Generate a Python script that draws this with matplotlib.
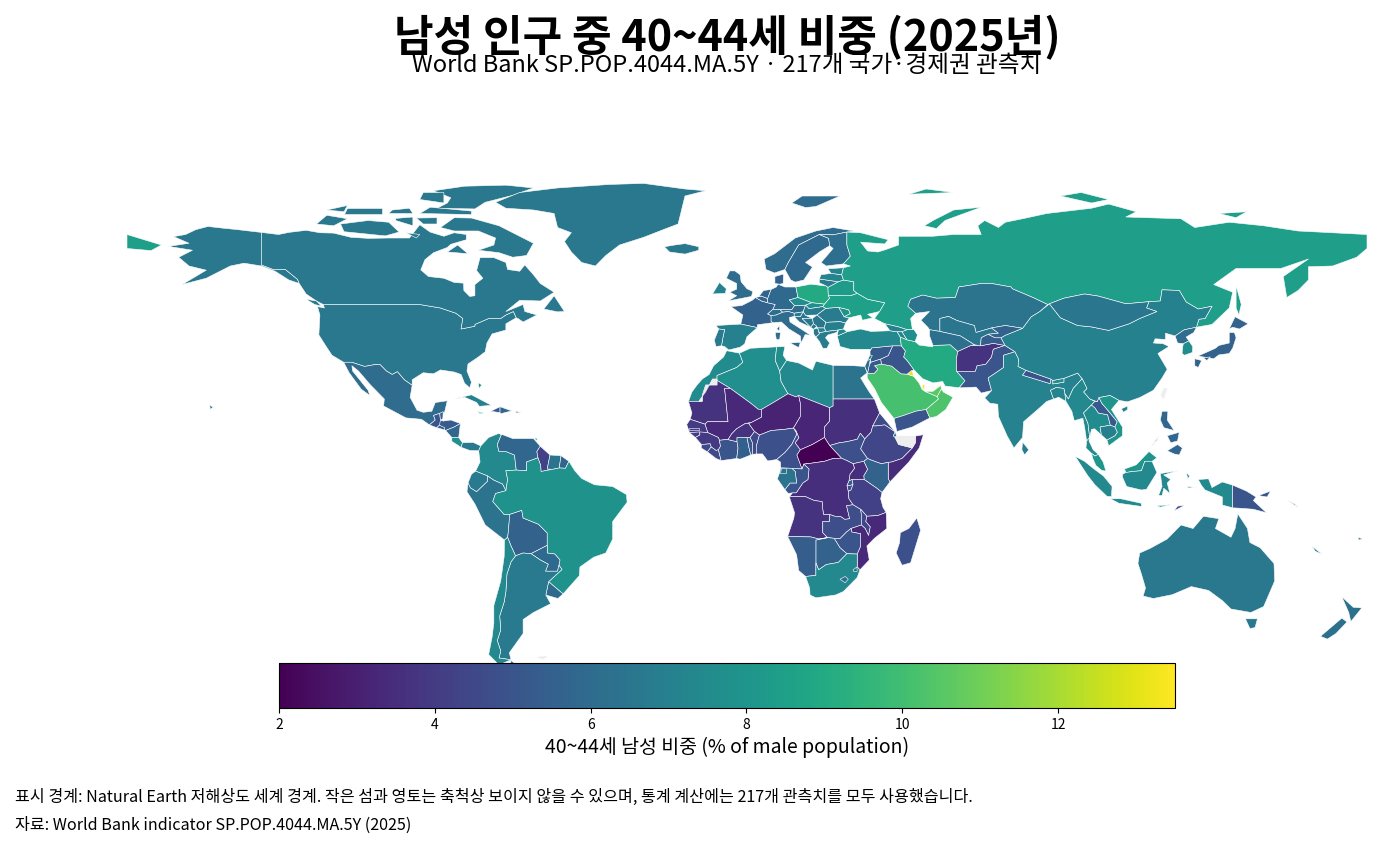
import matplotlib
matplotlib.use("Agg")
import matplotlib.pyplot as plt
from matplotlib.cm import ScalarMappable
from matplotlib.collections import PolyCollection
from matplotlib.colors import Normalize

plt.rcParams['font.family'] = ['Noto Sans CJK KR', 'DejaVu Sans']

# 지도 외곽선 (경도, 위도) - 그림에서 읽은 대략값
outlines_america = {
    "USA": [
        [(-141,69.6),(-148,70.4),(-152,70.8),(-156.5,71.3),(-160,70.4),(-163,69),(-166.5,68.4),(-162,66.5),(-168,65.6),(-161,64.5),(-165,62.5),(-162,60),(-157,58.8),(-164,54.7),(-157,56.5),(-153,58.5),(-150,60),(-146,60.8),(-141,60),(-137,58.5),(-133,56),(-130,55),(-130.5,56.2),(-134,59),(-137.5,59),(-141,60.3)],
        [(-123,49),(-95,49),(-89,48),(-84.5,46.5),(-82.5,45),(-83,42),(-79,42.8),(-79,43.3),(-75,45),(-71.5,45),(-70,46),(-67.8,47),(-67,45.2),(-70,43.5),(-70,41.7),(-74,40.6),(-75.5,38),(-76,35.5),(-78,34),(-81,32),(-81.3,30),(-80,26.8),(-80.5,25.2),(-82,26.5),(-83,29),(-85,29.7),(-89,30.3),(-91,29.2),(-94,29.5),(-97.2,27.5),(-97.2,25.9),(-99.5,27.5),(-101.5,29.8),(-103,29),(-104.7,30),(-106.5,31.8),(-108.2,31.8),(-111,31.3),(-114.8,32.5),(-117.1,32.5),(-120.5,34.5),(-122.5,37.5),(-124.3,40.3),(-124,46),(-124.7,48.4),(-122.7,48)],
        [(-156,20.2),(-155,19.7),(-155.8,19)],
    ],
    "Canada": [
        [(-141,69.6),(-136,69),(-133,69.6),(-128,70.2),(-124,69.5),(-120,69.4),(-115,68.2),(-110,67.9),(-104,68),(-98,68),(-95,71.8),(-92,69.7),(-88,68.5),(-85,69.5),(-81.5,69),(-81.5,67.5),(-86,66.2),(-87,65.3),(-91,63.8),(-93.5,61.8),(-94.7,58.9),(-92.5,57),(-88,56.5),(-85,55.3),(-82.3,55.1),(-82.2,53),(-80.5,51.3),(-79,51.5),(-79,54.7),(-76.7,56.5),(-78.5,58.7),(-77.5,62.4),(-73.5,62.4),(-70,61),(-69.5,59),(-66,58.5),(-64.5,60.3),(-62,57.5),(-60,55),(-56,52.5),(-60,50),(-66,50.2),(-70,47),(-65,49),(-64.5,47),(-61,46),(-65,44),(-66.5,45),(-67,45.2),(-67.8,47),(-70,46),(-71.5,45),(-75,45),(-79,43.3),(-79,42.8),(-83,42),(-82.5,45),(-84.5,46.5),(-89,48),(-95,49),(-123,49),(-125,50),(-128,52),(-130,55),(-130.5,56.2),(-134,59),(-137.5,59),(-141,60.3)],
        [(-128,50.5),(-125,50),(-123.5,48.5),(-125.5,49)],
        [(-59,47.7),(-56,51.5),(-53,47),(-55,46.9)],
        [(-80,73.7),(-72,71.5),(-67,69),(-62,66.5),(-64,63),(-68,62.5),(-72,63.8),(-78,64.5),(-73.5,66),(-73,68),(-78,70),(-85,70),(-89,71),(-85,73.8)],
        [(-117,69.8),(-105,68.6),(-101,69.7),(-104,72.5),(-110,73),(-118,72)],
        [(-125,72),(-120,71.5),(-116,73.5),(-122,74.5)],
        [(-90,76.5),(-79,76.3),(-76,78.2),(-68,80.2),(-62,82.3),(-70,83.1),(-82,82.8),(-91,81.5),(-86,79.5),(-87,78)],
        [(-95,75),(-80,74.7),(-80,75.7),(-92,76.8)],
        [(-117,75),(-106,75),(-106,76.5),(-116,76.5)],
        [(-87,64),(-81,63.5),(-84,66)],
        [(-96,73.7),(-90,73.8),(-90,72),(-94,72)],
        [(-102,73),(-97,71.5),(-97,74),(-102,73.6)],
        [(-99,69.5),(-95,69),(-96,68)],
        [(-122,76),(-117,75.5),(-116,77.3)],
        [(-104,75),(-97,75),(-98,76.5),(-103,76)],
        [(-95,79),(-88,78),(-88,81),(-94,81)],
    ],
    "Greenland": [[(-73,78.2),(-66,81),(-55,82.3),(-40,83.3),(-30,83.6),(-18,82),(-12,81.5),(-18,80),(-19,76),(-20,72),(-24,70.5),(-30,68.2),(-37,66),(-41,63),(-44,60),(-48,61),(-51,64),(-53,67),(-51,69.5),(-55,71),(-56,75),(-62,76),(-70,76.5)]],
    "Mexico": [[(-117.1,32.5),(-114.8,32.5),(-111,31.3),(-108.2,31.8),(-106.5,31.8),(-104.7,30),(-103,29),(-101.5,29.8),(-99.5,27.5),(-97.2,25.9),(-97.8,22.5),(-95.8,18.8),(-94,18.2),(-91.5,18.5),(-90.5,21),(-87,21.5),(-87.8,18.2),(-89.2,17.9),(-91,17.3),(-90.5,16),(-92.2,14.6),(-94.5,16.2),(-99,16.6),(-105.5,20),(-105.3,22),(-109.3,26),(-112.8,30),(-114.7,31.5),(-114.5,30),(-110,24.5),(-109.5,23),(-112,24.8),(-115.5,29.5)]],
    "Guatemala": [[(-92.2,14.6),(-90.5,16),(-91,17.3),(-89.2,17.9),(-89,15.9),(-88.2,15.7),(-89.3,14.5),(-90.1,13.8)]],
    "Belize": [[(-89.2,17.9),(-88.2,18.4),(-88.3,16.4),(-89,15.9)]],
    "Honduras": [[(-89,15.9),(-88.2,15.7),(-86,16),(-83.2,15),(-85,14),(-87.5,13),(-89.3,14.5)]],
    "El Salvador": [[(-90.1,13.8),(-89.3,14.5),(-87.7,13.8),(-87.9,13.2)]],
    "Nicaragua": [[(-87.5,13),(-85,14),(-83.2,15),(-83.7,11),(-85.7,11)]],
    "Costa Rica": [[(-85.7,11),(-83.7,11),(-82.6,9.5),(-83,8.2),(-85.7,9.9)]],
    "Panama": [[(-83,8.2),(-82.6,9.5),(-79.5,9.6),(-77.3,8.6),(-77.9,7.2),(-80.5,7.3)]],
    "Cuba": [[(-85,22),(-80,23.2),(-74.2,20.2),(-77.7,19.9),(-78.5,21),(-82,22.5)]],
    "Haiti": [[(-74.4,18.5),(-71.7,19.8),(-71.7,18.1)]],
    "Dominican Rep.": [[(-71.7,19.8),(-68.3,18.6),(-71.5,17.8),(-71.7,18.1)]],
    "Jamaica": [[(-78.3,18.4),(-76.3,18),(-77.5,17.8)]],
    "Puerto Rico": [[(-67.2,18.5),(-65.6,18.2),(-67,18)]],
    "Bahamas": [[(-78,26.7),(-77,26),(-77.8,25)]],
    "Trinidad": [[(-61.9,10.8),(-60.9,10.8),(-61,10.1)]],
    "Colombia": [[(-77.3,8.6),(-75,11),(-72,12.2),(-71.3,11.8),(-72.5,9),(-72,7),(-70,7),(-67.5,6),(-67,1.7),(-70,1.5),(-69.5,-1),(-70,-4.2),(-71,-2.3),(-73.5,-1.2),(-75.3,0),(-78.8,1.4),(-77.5,4),(-77.9,7.2)]],
    "Venezuela": [[(-72,12.2),(-68,10.7),(-62,10.7),(-60,8.5),(-61,7),(-60.7,5.2),(-64,4),(-64,1.5),(-67,1.7),(-67.5,6),(-70,7),(-72,7),(-72.5,9),(-71.3,11.8)]],
    "Guyana": [[(-60,8.5),(-57.2,6),(-58,2),(-56.5,1.9),(-59.8,1.3),(-59.9,3),(-60.7,5.2),(-61,7)]],
    "Suriname": [[(-57.2,6),(-54,5.8),(-54.5,2.3),(-56.5,1.9),(-58,2)]],
    "French Guiana": [[(-54,5.8),(-51.7,4.2),(-52.7,2.2),(-54.5,2.3)]],
    "Ecuador": [[(-78.8,1.4),(-75.3,0),(-75.3,-1.5),(-78.5,-4.5),(-80.3,-3.4),(-81,-2),(-80,0.5)]],
    "Peru": [[(-81,-2),(-80.3,-3.4),(-78.5,-4.5),(-75.3,-1.5),(-75.3,0),(-73.5,-1.2),(-71,-2.3),(-70,-4.2),(-73,-5),(-73.8,-7.3),(-70.5,-11),(-69,-11),(-69,-12.5),(-69.3,-16),(-69.5,-17.5),(-70.4,-18.3),(-76,-14),(-79,-8),(-81.3,-4.5)]],
    "Bolivia": [[(-69,-11),(-65.4,-9.8),(-65,-12),(-60.5,-13.8),(-58,-16.3),(-58,-19.8),(-62.7,-22.2),(-65,-22),(-67.2,-22.8),(-68.5,-20),(-69.5,-17.5),(-69.3,-16),(-69,-12.5)]],
    "Brazil": [[(-51.7,4.2),(-50,1.5),(-48,-0.7),(-44.3,-2.5),(-39,-3),(-35,-5.3),(-34.8,-7.5),(-39,-13),(-39,-18),(-41,-22),(-44.5,-23.2),(-48.5,-26),(-48.7,-28.5),(-53.4,-33.7),(-57.6,-30.2),(-53.7,-26.7),(-54.6,-25.5),(-54.3,-24),(-55.8,-22.3),(-58,-22),(-58,-19.8),(-58,-16.3),(-60.5,-13.8),(-65,-12),(-65.4,-9.8),(-69,-11),(-70.5,-11),(-73.8,-7.3),(-73,-5),(-70,-4.2),(-69.5,-1),(-70,1.5),(-67,1.7),(-64,1.5),(-64,4),(-60.7,5.2),(-59.9,3),(-59.8,1.3),(-56.5,1.9),(-54.5,2.3),(-52.7,2.2)]],
    "Paraguay": [[(-58,-19.8),(-58,-22),(-55.8,-22.3),(-54.3,-24),(-54.6,-25.5),(-55,-27.2),(-58.5,-27.2),(-57.7,-25.2),(-60,-24),(-62.7,-22.2)]],
    "Uruguay": [[(-57.6,-30.2),(-53.4,-33.7),(-54.9,-35),(-58.4,-34)]],
    "Argentina": [
        [(-67.2,-22.8),(-65,-22),(-62.7,-22.2),(-60,-24),(-57.7,-25.2),(-58.5,-27.2),(-55,-27.2),(-54.6,-25.5),(-53.7,-26.7),(-57.6,-30.2),(-58.4,-34),(-57,-36.5),(-62,-39),(-65,-41),(-65,-45),(-69,-50.5),(-68.5,-52.5),(-72,-52),(-71.5,-50),(-72.5,-47),(-71.5,-44),(-71.8,-40),(-70.5,-36),(-70,-33),(-69.7,-28),(-68.5,-24.5)],
        [(-68.6,-52.7),(-65.2,-55),(-68.6,-55)],
    ],
    "Chile": [[(-70.4,-18.3),(-69.5,-17.5),(-68.5,-20),(-67.2,-22.8),(-68.5,-24.5),(-69.7,-28),(-70,-33),(-70.5,-36),(-71.8,-40),(-71.5,-44),(-72.5,-47),(-71.5,-50),(-72,-52),(-68.5,-52.5),(-72,-54),(-75,-51),(-74,-46),(-73.5,-42),(-73.5,-37),(-71.5,-30),(-70.5,-23)]],
}
values_america = {
    "USA": 6.6, "Canada": 6.6, "Greenland": 6.6, "Mexico": 6.0, "Guatemala": 5.0, "Belize": 5.6,
    "Honduras": 5.3, "El Salvador": 5.5, "Nicaragua": 5.8, "Costa Rica": 7.7, "Panama": 6.7,
    "Cuba": 7.0, "Haiti": 5.3, "Dominican Rep.": 5.8, "Jamaica": 8.6, "Puerto Rico": 6.2,
    "Bahamas": 7.6, "Trinidad": 8.8, "Colombia": 7.4, "Venezuela": 5.8, "Guyana": 4.2,
    "Suriname": 6.4, "French Guiana": 5.7, "Ecuador": 6.7, "Peru": 6.4, "Bolivia": 5.6,
    "Brazil": 7.8, "Paraguay": 5.9, "Uruguay": 5.9, "Argentina": 6.7, "Chile": 7.4,
}

outlines_europe = {
    "Norway": [
        [(5,62),(8,63.5),(14,68),(20,70),(25,71),(31,70),(29,69.7),(25,68.9),(21,69),(15,66),(12,61),(11,59),(8,58),(5.5,59)],
        [(13,78),(16,80),(27,80),(20,77),(17,76.7)],
    ],
    "Sweden": [[(12,61),(15,66),(21,69),(23.7,67.9),(24,65.8),(21,64),(17,61),(19,59.7),(16.5,56),(14,55.4),(12.7,56),(11,59)]],
    "Finland": [[(21,69),(25,68.9),(29,69.7),(29,66),(30,62.8),(28,60.6),(23,60),(21.5,61),(25,65),(24,65.8),(23.7,67.9)]],
    "Denmark": [[(8.1,55),(8.1,57),(10.6,57.7),(10.5,55),(9.5,54.8)]],
    "Iceland": [[(-24,65.5),(-21,66),(-18,66.4),(-14,65.5),(-14,64.5),(-18,63.4),(-22.5,64)]],
    "Ireland": [[(-10,52),(-8,55.3),(-6,53.5),(-6.3,52.2)]],
    "UK": [[(-5.5,50),(1.3,51.3),(1.7,52.7),(0,53.5),(-1.7,55.5),(-2,57.5),(-3.5,58.6),(-5,58.6),(-6,56.5),(-3,55),(-3,53.4),(-5,52.5),(-3,51.5)]],
    "France": [
        [(-1.8,43.4),(-1.2,46),(-4.7,48.4),(-1.5,48.7),(1.5,50.2),(2.5,51),(4.2,50),(6,49.5),(8.2,49),(7.5,47.6),(6,46.3),(7,45.8),(7,44.2),(7.5,43.8),(3,43.2),(3,42.4)],
        [(8.6,42),(9.5,43),(9.4,41.5)],
    ],
    "Spain": [[(-9,43),(-1.8,43.4),(3,42.4),(0,39.8),(-0.7,37.7),(-2,36.8),(-5.3,36),(-6.5,37),(-7.4,37.2),(-7,39.5),(-6.5,41.8),(-8.2,42)]],
    "Portugal": [[(-8.2,42),(-6.5,41.8),(-7,39.5),(-7.4,37.2),(-9,37),(-9.5,38.8)]],
    "Belgium": [[(2.5,51),(4.2,51.4),(6,50.7),(6,49.5),(4.2,50)]],
    "Netherlands": [[(3.5,51.4),(4.8,53),(7,53.3),(6,50.7),(4.2,51.4)]],
    "Germany": [[(6,50.7),(7,53.3),(8.5,54),(9,54.8),(11,54),(14.2,54),(14.8,51),(12.3,50.3),(13.8,48.7),(13,47.5),(9.6,47.5),(7.5,47.6),(8.2,49),(6,49.5)]],
    "Switzerland": [[(6,46.3),(7.5,47.6),(9.6,47.5),(10.4,46.8),(8.5,46),(7,45.8)]],
    "Austria": [[(9.6,47.5),(13,47.5),(13.8,48.7),(17,48.8),(16.3,46.9),(13.7,46.5),(12,47),(10.4,46.8)]],
    "Italy": [
        [(7,45.8),(8.5,46),(10.4,46.8),(12,47),(13.7,46.5),(13.7,45.6),(12.3,45.3),(12.5,44),(16,41.8),(18.5,40.2),(16.9,40.4),(15.7,38),(15.5,40),(12.2,42),(10,44),(7.5,43.8),(7,44.2)],
        [(12.5,38),(15.5,38.2),(15,36.7)],
        [(8.2,41),(9.7,41),(9.5,39),(8.5,39)],
    ],
    "Poland": [[(14.2,54),(18.5,54.8),(23,54.3),(23.5,53.9),(23.6,51.6),(24,50.8),(22.5,49.1),(18.8,49.5),(14.8,51)]],
    "Czechia": [[(12.3,50.3),(14.8,51),(18.8,49.5),(17,48.8),(13.8,48.7)]],
    "Slovakia": [[(17,48.8),(18.8,49.5),(22.5,49.1),(22,48.4),(18,47.8)]],
    "Hungary": [[(16.3,46.9),(17,48.8),(18,47.8),(22,48.4),(22.9,47.9),(20.3,46),(17,45.9)]],
    "Romania": [[(20.3,46),(22.9,47.9),(26.6,48.2),(28.2,45.5),(29.7,45.2),(28.6,43.7),(27,44.1),(22.9,43.9),(21.5,45)]],
    "Moldova": [[(26.6,48.2),(29.5,47.5),(30,46.4),(28.2,45.5)]],
    "Ukraine": [[(24,50.8),(22.5,49.1),(22,48.4),(22.9,47.9),(26.6,48.2),(29.5,47.5),(30,46.4),(28.2,45.5),(29.7,45.2),(33,46),(33.5,44.5),(36.5,45.2),(35,46.2),(38.5,47),(40,49.5),(35,50.5),(32,52.2),(30,51.5),(23.6,51.6)]],
    "Belarus": [[(23.6,51.6),(30,51.5),(32,52.2),(31,53),(31,55.5),(28,56),(26.5,55.5),(23.5,53.9)]],
    "Lithuania": [[(21,56.3),(26.5,55.5),(23.5,53.9),(23,54.3),(21,55.2)]],
    "Latvia": [[(21,56.3),(21.5,57.5),(24.4,57.9),(27.5,57.5),(28,56),(26.5,55.5)]],
    "Estonia": [[(23.5,59.2),(28,59.5),(27.5,57.5),(24.4,57.9)]],
    "Slovenia": [[(13.7,45.6),(13.7,46.5),(16.3,46.9),(15.5,45.5)]],
    "Croatia": [[(13.7,45.6),(15.5,45.5),(16.3,46.9),(17,45.9),(19,45),(16,45),(18.5,42.5),(15.2,44),(14.2,45)]],
    "Bosnia": [[(16,45),(19,45),(19.3,43.5),(18.5,42.5)]],
    "Serbia": [[(19,45),(20.3,46),(21.5,45),(22.9,43.9),(22.4,42.3),(20.5,42.3),(19.3,43.5)]],
    "Montenegro": [[(18.5,42.5),(19.3,43.5),(20.3,42.8),(19.3,41.9)]],
    "Albania": [[(19.3,41.9),(20.5,42.3),(21,40.6),(20,39.7),(19.4,40.5)]],
    "N. Macedonia": [[(20.5,42.3),(22.4,42.3),(23,41.3),(21,40.9)]],
    "Bulgaria": [[(22.9,43.9),(27,44.1),(28.6,43.7),(28,42),(26.5,41.7),(23,41.3),(22.4,42.3)]],
    "Greece": [[(21,40.6),(20,39.7),(21,38.5),(22,36.5),(23.2,36.5),(24,38),(22.8,39.5),(23.5,40.3),(26,41),(26.5,41.7),(23,41.3),(21,40.9)]],
}
values_europe = {
    "Norway": 6.0, "Sweden": 5.9, "Finland": 6.1, "Denmark": 5.6, "Iceland": 6.6, "Ireland": 7.1,
    "UK": 6.0, "France": 5.6, "Spain": 7.0, "Portugal": 6.7, "Belgium": 5.8, "Netherlands": 5.6,
    "Germany": 5.9, "Switzerland": 6.2, "Austria": 6.0, "Italy": 6.0, "Poland": 9.0, "Czechia": 7.6,
    "Slovakia": 7.7, "Hungary": 6.8, "Romania": 6.8, "Moldova": 7.8, "Ukraine": 8.5, "Belarus": 8.3,
    "Lithuania": 6.8, "Latvia": 7.2, "Estonia": 7.2, "Slovenia": 6.7, "Croatia": 6.4, "Bosnia": 6.6,
    "Serbia": 6.5, "Montenegro": 6.6, "Albania": 6.6, "N. Macedonia": 7.1, "Bulgaria": 6.9, "Greece": 6.8,
}

outlines_africa = {
    "Morocco": [[(-5.9,35.8),(-2.2,35.1),(-1.2,32.5),(-3,31),(-8.7,28.7),(-8.7,27.7),(-10,27.7),(-12,24),(-14,21.3),(-17,21.3),(-16,24),(-14.5,26),(-13,27.7),(-11,29),(-9.7,31.5),(-6.8,34)]],
    "Algeria": [[(-2.2,35.1),(1,36.5),(8.6,36.9),(8.2,33),(9.5,30),(9.9,27),(11.9,23.5),(7.5,20.9),(4.2,19),(3.2,19.1),(1.2,20.7),(-4.8,25),(-8.7,27.3),(-8.7,28.7),(-3,31),(-1.2,32.5)]],
    "Tunisia": [[(8.6,36.9),(11,37),(10.5,34.5),(11.5,33),(9.5,30),(8.2,33)]],
    "Libya": [[(11.5,33),(15,32.3),(19,30.3),(20,32.8),(25,31.6),(25,22),(25,20),(24,19.5),(15,23),(14.2,22.6),(11.9,23.5),(9.9,27),(9.5,30)]],
    "Egypt": [[(25,31.6),(31,31.5),(34.2,31.3),(34.9,29.5),(33,28),(35.5,24),(37,22),(25,22)]],
    "Mauritania": [[(-17,21.3),(-13,21.3),(-13,23),(-12,26),(-8.7,26),(-8.7,27.3),(-4.8,25),(-6.5,25),(-5.5,15.5),(-11.5,15.5),(-12.2,14.8),(-16.5,16.2),(-16,18)]],
    "Mali": [[(-4.8,25),(1.2,20.7),(3.2,19.1),(4.2,19),(4.2,16.8),(1.3,15.3),(-0.5,15),(-3,13.5),(-4.5,12),(-5.5,10.4),(-6.2,10.4),(-8,10.2),(-8.3,11),(-11.4,12.4),(-12.2,14.8),(-11.5,15.5),(-5.5,15.5),(-6.5,25)]],
    "Senegal": [[(-16.5,16.2),(-12.2,14.8),(-11.4,12.4),(-16.7,12.4),(-17.5,14.7)]],
    "Gambia": [[(-16.8,13.6),(-13.8,13.6),(-13.8,13.2),(-16.8,13.2)]],
    "Guinea-Bissau": [[(-16.7,12.4),(-13.7,12.6),(-13.7,11.7),(-15,11)]],
    "Guinea": [[(-13.7,12.6),(-11.4,12.4),(-8.3,11),(-8,10.2),(-7.7,8.5),(-8.3,7.5),(-9,7.3),(-10.4,8.3),(-10.7,9.2),(-13.2,9),(-15,11),(-13.7,11.7)]],
    "Sierra Leone": [[(-13.2,9),(-10.7,9.2),(-10.4,8.3),(-11.5,6.9),(-13.3,8)]],
    "Liberia": [[(-11.5,6.9),(-10.4,8.3),(-9,7.3),(-8.3,7.5),(-7.5,4.4),(-9,5)]],
    "Cote d'Ivoire": [[(-7.5,4.4),(-8.3,7.5),(-7.7,8.5),(-8,10.2),(-6.2,10.4),(-5.5,10.4),(-2.9,9.8),(-2.6,8),(-3,5)]],
    "Burkina Faso": [[(-5.5,10.4),(-4.5,12),(-3,13.5),(-0.5,15),(0.5,15),(2.2,12.7),(0.9,11),(-2.9,11),(-2.9,9.8)]],
    "Niger": [[(1.3,15.3),(4.2,16.8),(4.2,19),(7.5,20.9),(11.9,23.5),(14.2,22.6),(15,23),(15.5,20.8),(15.5,17),(13.5,13.7),(10.7,13.3),(7,13),(3.6,11.7),(2.2,12.7),(0.5,15)]],
    "Ghana": [[(-2.9,11),(0,11),(0.6,8),(1.1,6),(-2,4.8),(-3,5),(-2.6,8),(-2.9,9.8)]],
    "Togo": [[(0,11),(0.9,11),(1.6,9.5),(1.6,6.2),(1.1,6),(0.6,8)]],
    "Benin": [[(0.9,11),(2.2,12.7),(3.6,11.7),(2.7,8.5),(2.7,6.3),(1.6,6.2),(1.6,9.5)]],
    "Nigeria": [[(3.6,11.7),(7,13),(10.7,13.3),(13.5,13.7),(14.5,12),(13,9),(11,6.7),(8.6,4.7),(6,4.3),(4.5,6.3),(2.7,6.3),(2.7,8.5)]],
    "Cameroon": [[(14.5,12),(14.2,13),(15.1,10.9),(14,9.5),(15.5,7.5),(14.5,6),(16,2),(13,2.2),(9.8,2.3),(9.7,4),(8.6,4.7),(11,6.7),(13,9)]],
    "Chad": [[(15,23),(24,19.5),(24,15.7),(22.5,14),(22.5,11),(19,9),(15.5,7.5),(14,9.5),(15.1,10.9),(14.2,13),(13.5,13.7),(15.5,17),(15.5,20.8)]],
    "Sudan": [[(24,19.5),(25,20),(25,22),(37,22),(38.5,18),(36.5,14.3),(36,12.5),(34.2,10.6),(32.9,12.2),(32,10.5),(29,9.8),(26.8,9.5),(24,8.7),(22.5,11),(22.5,14),(24,15.7)]],
    "South Sudan": [[(24,8.7),(26.8,9.5),(29,9.8),(32,10.5),(32.9,12.2),(34.2,10.6),(33,7.8),(35,5),(33.9,4.2),(30.8,3.5),(29,4.4),(27.4,5.1)]],
    "CAR": [[(14.5,6),(15.5,7.5),(19,9),(22.5,11),(24,8.7),(27.4,5.1),(25,5),(22.5,4.2),(19,3.7),(16.5,3.4),(16,2)]],
    "Eritrea": [[(36.5,14.3),(38.5,18),(43,12.6),(40,14.6),(37.5,14.3)]],
    "Ethiopia": [[(36.5,14.3),(37.5,14.3),(40,14.6),(43,12.6),(42.5,11.5),(43,11),(44,9),(48,8),(45,5),(42,4),(41,3.9),(39,3.5),(35.9,4.6),(35,5),(33,7.8),(34.2,10.6),(36,12.5)]],
    "Djibouti": [[(43,12.6),(43.4,11.6),(43,11),(42.5,11.5)]],
    "Somalia": [[(48.9,11.4),(51.2,11.8),(50,8),(47,4),(41.5,-1.7),(41,-0.8),(41,3.9),(42,4),(45,5),(48,8),(48.9,9.5)]],
    "Kenya": [[(35.9,4.6),(39,3.5),(41,3.9),(41,-0.8),(41.5,-1.7),(39.2,-4.7),(37.7,-3.5),(34,-1),(33.9,0.1),(35,1.9),(33.9,4.2),(35,5)]],
    "Uganda": [[(30.8,3.5),(33.9,4.2),(35,1.9),(33.9,0.1),(34,-1),(30.5,-1),(29.6,-1.4),(29.9,0.5),(31.2,2.2)]],
    "Rwanda": [[(29,-2.7),(29.6,-1.4),(30.5,-1),(30.8,-2.4),(30,-2.7)]],
    "Burundi": [[(29,-2.7),(30,-2.7),(30.8,-2.4),(30.2,-4),(29.4,-4.4)]],
    "DR Congo": [[(16.5,3.4),(19,3.7),(22.5,4.2),(25,5),(27.4,5.1),(29,4.4),(30.8,3.5),(31.2,2.2),(29.9,0.5),(29.6,-1.4),(29,-2.7),(29.4,-4.4),(29.6,-6.5),(30.8,-8.2),(28.9,-8.5),(29.8,-12.2),(28.4,-12.4),(27.2,-11.6),(25.5,-11.5),(24,-11),(22.2,-11),(22,-9.5),(21.8,-7.3),(19.5,-7),(17,-5.9),(13,-5.9),(12.3,-6),(13.2,-4.8),(14.3,-4.8),(16.2,-2),(17.7,-1),(18,2)]],
    "Congo": [[(16,2),(16.5,3.4),(18,2),(17.7,-1),(16.2,-2),(14.3,-4.8),(13.2,-4.8),(12,-5),(11,-3.9),(12.5,-2),(14.4,-2),(14,1.3),(13,2.2)]],
    "Gabon": [[(9.8,2.3),(13,2.2),(14,1.3),(14.4,-2),(12.5,-2),(11,-3.9),(8.8,-0.8),(9.5,1)]],
    "Eq. Guinea": [[(9.8,2.3),(11.3,2.3),(11.3,1),(9.5,1)]],
    "Angola": [[(12.3,-6),(13,-5.9),(17,-5.9),(19.5,-7),(21.8,-7.3),(22,-9.5),(22.2,-11),(24,-11),(24,-13),(22,-13),(22,-16.2),(23.4,-17.6),(20.8,-18),(18.5,-17.4),(11.8,-17.3),(13.6,-12),(13.8,-10.5)]],
    "Zambia": [[(22,-13),(24,-13),(24,-11),(25.5,-11.5),(27.2,-11.6),(28.4,-12.4),(29.8,-12.2),(28.9,-8.5),(30.8,-8.2),(33,-9.5),(33.2,-11),(33.2,-14),(30.2,-15),(28.9,-16),(27,-17.9),(25.3,-17.8),(23.4,-17.6),(22,-16.2)]],
    "Tanzania": [[(30.5,-1),(34,-1),(37.7,-3.5),(39.2,-4.7),(38.8,-6.5),(39.5,-9),(40.4,-10.4),(38,-11.3),(34.8,-11.5),(33,-9.5),(30.8,-8.2),(29.6,-6.5),(29.4,-4.4),(30.2,-4),(30.8,-2.4)]],
    "Malawi": [[(33,-9.5),(34.8,-11.5),(34.5,-13),(35.8,-14.5),(35.3,-17),(34.3,-15),(33.2,-14),(33.2,-11)]],
    "Mozambique": [[(40.4,-10.4),(38,-11.3),(34.8,-11.5),(34.5,-13),(35.8,-14.5),(35.3,-17),(34.3,-15),(33.2,-14),(30.2,-15),(30.4,-16),(33,-16.5),(33,-20),(32,-22.3),(32,-26),(32.8,-26.8),(35.5,-24),(34.8,-20),(37,-17.8),(40.6,-15)]],
    "Zimbabwe": [[(25.3,-17.8),(27,-17.9),(28.9,-16),(30.2,-15),(30.4,-16),(33,-16.5),(33,-20),(32,-22.3),(29,-22.2),(27,-20.5)]],
    "Botswana": [[(20,-18.3),(23.4,-17.6),(25.3,-17.8),(27,-20.5),(29,-22.2),(26.5,-24.7),(23,-25.3),(20.8,-26.8),(20,-24.8)]],
    "Namibia": [[(11.8,-17.3),(18.5,-17.4),(20.8,-18),(23.4,-17.6),(20,-18.3),(20,-24.8),(20,-28.4),(17,-28.7),(15,-27),(14.4,-22.5)]],
    "South Africa": [[(17,-28.7),(20,-28.4),(20,-24.8),(20.8,-26.8),(23,-25.3),(26.5,-24.7),(29,-22.2),(32,-22.3),(32,-26),(32.8,-26.8),(32,-29),(28,-33),(25.7,-34),(20,-34.8),(18.3,-34),(18.2,-32)]],
    "Lesotho": [[(27,-29.5),(28.5,-28.7),(29.4,-29.5),(28.5,-30.5)]],
    "Eswatini": [[(30.8,-26.8),(31.9,-26),(32,-27.2),(31,-27.3)]],
    "Madagascar": [[(49.3,-12),(50.4,-15.5),(47.5,-24.8),(45,-25.5),(43.3,-22),(44.3,-19),(44.5,-16.2),(47,-15)]],
}
values_africa = {
    "Morocco": 7.5, "Algeria": 7.7, "Tunisia": 7.6, "Libya": 7.4, "Egypt": 6.4, "Mauritania": 3.7,
    "Mali": 3.3, "Senegal": 4.0, "Gambia": 4.0, "Guinea-Bissau": 4.1, "Guinea": 3.9, "Sierra Leone": 4.6,
    "Liberia": 4.6, "Cote d'Ivoire": 5.0, "Burkina Faso": 3.7, "Niger": 3.1, "Ghana": 5.5, "Togo": 5.1,
    "Benin": 4.5, "Nigeria": 4.8, "Cameroon": 4.8, "Chad": 3.2, "Sudan": 3.6, "South Sudan": 4.8,
    "CAR": 2.0, "Eritrea": 4.6, "Ethiopia": 4.4, "Djibouti": 6.5, "Somalia": 3.4, "Kenya": 5.6,
    "Uganda": 3.5, "Rwanda": 5.2, "Burundi": 4.7, "DR Congo": 3.5, "Congo": 5.0, "Gabon": 6.4,
    "Eq. Guinea": 6.4, "Angola": 3.7, "Zambia": 4.7, "Tanzania": 4.2, "Malawi": 4.5, "Mozambique": 3.3,
    "Zimbabwe": 5.0, "Botswana": 5.6, "Namibia": 5.4, "South Africa": 7.4, "Lesotho": 6.2, "Eswatini": 6.2,
    "Madagascar": 4.8,
}

outlines_asia = {
    "Russia": [
        [(28,59.5),(30,60),(28,60.6),(30,62.8),(29,66),(29,69.7),(33,69.5),(41,67.5),(40,66.3),(33,66.8),(35,64.3),(38,64),(40,64.6),(44,66),(44,68.5),(54,68.5),(60,69),(68,69),(67,71.5),(69,73),(73,71),(75,72.5),(80,73.5),(87,75),(100,76.5),(105,77.7),(113,75.5),(110,74),(126,73.5),(130,71),(140,72.5),(150,71.5),(160,70),(170,69.5),(180,69),(180,65),(177,62.5),(170,60),(163,59.8),(163,56),(160,53),(156.7,51),(155.7,57),(163,62),(155,59.3),(142,59.3),(135.5,54.7),(141,52.5),(140,48),(135,43.3),(131,42.6),(130.5,42.5),(131.2,44.8),(133,45),(135,48.5),(131,47.7),(127.5,49.7),(125.5,53),(120.5,53.2),(120,50),(116.7,49.8),(110,49.2),(102,51.4),(98,52),(92,50.8),(87.8,49.2),(87.3,49),(83,51),(77,53.5),(76.7,54),(71,55),(68,55),(61.5,54),(60.5,51),(55,50.8),(51,51.7),(47.5,50.5),(46.7,48.5),(49,46.5),(47.5,45),(48,42),(48.5,41.8),(46.5,41.8),(44,42.6),(40,43.5),(37,45),(38.5,47),(40,49.5),(35,50.5),(32,52.2),(31,53),(31,55.5),(28,56),(27.5,57.5)],
        [(-180,69),(-175,67.5),(-170,66),(-173,64.4),(-180,65)],
        [(142,54.4),(143.5,49),(142.8,46),(142,48),(142,52)],
        [(51.5,71.5),(55,70.7),(57.5,73),(68,76.8),(60,76),(54,73)],
        [(47,80.5),(52,82),(60,81)],
        [(91,80),(97,81),(105,79),(100,78)],
        [(137,75),(145,75.5),(142,73.8)],
    ],
    "Saudi Arabia": [[(34.9,29.4),(36.9,29.3),(38,30.5),(37,31.5),(39,32),(42,31.4),(44.7,29.2),(46.5,29.1),(48.4,28.5),(50,26.5),(50.8,24.8),(51.6,24.2),(55.2,22.7),(55.6,22),(52,19),(49,18.5),(45.5,17.3),(43.2,16.6),(42.7,16.4),(39,21),(37,25),(34.9,28)]],
    "Yemen": [[(42.7,16.4),(43.2,16.6),(45.5,17.3),(49,18.5),(52,19),(53.1,16.6),(48,14),(43.5,12.7)]],
    "Oman": [[(55.6,22),(55.2,22.7),(56.4,24.9),(57,24),(59.8,22.5),(57.7,19),(55,17),(53.1,16.6),(52,19)]],
    "UAE": [[(51.6,24.2),(54,24.2),(56.3,25.9),(56.4,24.9),(55.2,22.7)]],
    "Qatar": [[(50.8,24.8),(51.6,25),(51.6,26.2),(51,26.1)]],
    "Kuwait": [[(46.5,29.1),(48.4,28.5),(48,30),(47.7,30.1)]],
    "Iraq": [[(38.8,33.4),(41,34.4),(42.3,37.2),(44.8,37.2),(46,35.7),(45.5,34),(46.5,33),(48.5,30.3),(47.7,30.1),(46.5,29.1),(44.7,29.2),(42,31.4),(39,32)]],
    "Syria": [[(35.7,35.6),(36.2,36.6),(42.3,37.2),(41,34.4),(38.8,33.4),(36,32.5),(35.8,33.3)]],
    "Jordan": [[(36,32.5),(38.8,33.4),(39,32),(37,31.5),(38,30.5),(36.9,29.3),(35,29.4),(35.5,31.7)]],
    "Israel": [[(34.2,31.3),(35,33.1),(35.8,33.3),(35.5,31.7),(35,29.4)]],
    "Lebanon": [[(35,33.1),(35.7,34.6),(36.4,34.4),(35.8,33.3)]],
    "Turkey": [
        [(26.2,40),(27,37),(30,36.2),(36,36.2),(36.2,36.6),(42.3,37.2),(44.8,37.2),(44.5,39.7),(43.6,41.2),(41.5,41.5),(36,41.3),(33,42),(29,41.2)],
        [(26.2,40),(26.5,41.7),(28,42),(29,41.2)],
    ],
    "Iran": [[(44.5,39.7),(44.8,37.2),(46,35.7),(45.5,34),(46.5,33),(48.5,30.3),(51,27.8),(54,26.6),(56.8,27),(57.5,25.7),(61.6,25.2),(63.3,27.2),(60.9,29.9),(60.8,33.5),(61.2,35.6),(59,37.5),(54,37.3),(53.9,36.9),(50,37.4),(48.8,38.4),(46.5,38.9)]],
    "Georgia": [[(40,43.5),(41.5,41.5),(43.6,41.2),(45,41.2),(46.5,41.8),(44,42.6)]],
    "Armenia": [[(43.6,41.2),(45,41.2),(46.5,38.9),(44.5,39.7)]],
    "Azerbaijan": [[(45,41.2),(46.5,41.8),(48.5,41.8),(49.5,40.3),(48.8,38.4),(46.5,38.9)]],
    "Afghanistan": [[(61.2,35.6),(60.8,33.5),(60.9,29.9),(66.3,29.9),(66.8,31.5),(69.3,31.9),(71,34),(71.5,36.2),(74.9,37.3),(71.5,37.9),(67.8,37.2),(65,37.3)]],
    "Pakistan": [[(60.9,29.9),(63.3,27.2),(61.6,25.2),(66.5,25.4),(68,23.7),(71,24.4),(70,28),(74.5,31),(74.5,34.5),(77.8,35.5),(74.9,37.3),(71.5,36.2),(71,34),(69.3,31.9),(66.8,31.5),(66.3,29.9)]],
    "India": [[(74.5,34.5),(77.8,35.5),(78.9,33.3),(78.7,31.3),(81,30.2),(80,28.8),(88,26.4),(88.2,27.7),(88.8,27.3),(88.8,26.3),(92,26.8),(92,27.9),(96,29.4),(97.3,27.8),(94.7,25),(93.3,22),(92.3,23.5),(92,25),(89.8,25.3),(88.1,24.5),(89,22),(87,21.3),(85,19.5),(80.3,15.5),(80,11),(77.5,8),(75.5,11.5),(73,17),(72.8,20.5),(70.5,20.8),(69,22.3),(71,24.4),(70,28),(74.5,31)]],
    "Bangladesh": [[(88.1,24.5),(89.8,25.3),(92,25),(92.3,23.5),(92.6,21.3),(90.5,22.5),(89,22)]],
    "Nepal": [[(80,28.8),(81,30.2),(88.2,27.7),(88,26.4)]],
    "Bhutan": [[(88.8,27.3),(92,27.9),(92,26.8),(88.8,26.3)]],
    "Sri Lanka": [[(80,9.7),(81.8,7.5),(80.6,6),(79.8,7.5)]],
    "China": [
        [(73.7,39.5),(74.9,37.3),(77.8,35.5),(78.9,33.3),(78.7,31.3),(81,30.2),(88.2,27.7),(88.8,27.3),(92,27.9),(96,29.4),(97.3,27.8),(98.7,25),(97.7,24),(99.5,22),(101.7,21.2),(102.2,22.4),(105.4,23),(108,21.6),(110.5,21.2),(114,22.4),(118,24.5),(120.5,28),(122,30.5),(120.8,32.5),(119.3,35),(122.5,37),(120.8,37.8),(118,38),(118.5,39.2),(121.5,39),(121.5,40.8),(124.3,40),(126.8,41.7),(128,42),(130.5,42.5),(131.2,44.8),(133,45),(135,48.5),(131,47.7),(127.5,49.7),(125.5,53),(120.5,53.2),(120,50),(116.7,49.8),(116,48),(119,47),(114,45),(111,43.5),(105,41.6),(100,42.6),(96,43),(91,45.2),(87.8,49.2),(85,47),(82.5,45.5),(80,42.2),(75,40.2)],
        [(108.7,19.2),(110.5,20),(110.5,19),(109.3,18.2)],
    ],
    "Mongolia": [[(87.8,49.2),(91,45.2),(96,43),(100,42.6),(105,41.6),(111,43.5),(114,45),(119,47),(116,48),(116.7,49.8),(110,49.2),(102,51.4),(98,52),(92,50.8)]],
    "Kazakhstan": [[(46.7,48.5),(47.5,50.5),(51,51.7),(55,50.8),(60.5,51),(61.5,54),(68,55),(71,55),(76.7,54),(77,53.5),(83,51),(87.3,49),(85,47),(82.5,45.5),(80,42.2),(75,43),(71,42.3),(66.5,41),(66,43),(61,44.4),(58.5,45.6),(56,45),(56,41.3),(53,41.8),(52.5,42.5),(50.5,44.5),(53,47),(49,46.5)]],
    "Uzbekistan": [[(56,45),(58.5,45.6),(61,44.4),(66,43),(66.5,41),(71,42.3),(73,40.8),(70,40.5),(68,39.5),(67.8,37.2),(66,37.5),(62,40),(56,41.3)]],
    "Turkmenistan": [[(53,41.8),(56,41.3),(62,40),(66,37.5),(65,37.3),(61.2,35.6),(59,37.5),(54,37.3),(53,40)]],
    "Tajikistan": [[(68,39.5),(70,40.5),(72,39.5),(73.7,39.5),(74.9,37.3),(71.5,37.9),(67.8,37.2)]],
    "Kyrgyzstan": [[(71,42.3),(75,43),(80,42.2),(75,40.2),(73.7,39.5),(72,39.5),(70,40.5),(73,40.8)]],
    "Myanmar": [[(92.6,21.3),(92.3,23.5),(93.3,22),(94.7,25),(97.3,27.8),(98.7,25),(97.7,24),(99.5,22),(101,21.3),(100,20.3),(97.7,18),(99,15),(99.5,11),(98.6,10),(98,14),(97.5,16.5),(95,15.8),(94.3,18.5)]],
    "Thailand": [[(100,20.3),(101,19.5),(102,18),(104.7,17.5),(105.5,14.5),(102.5,14),(102.9,11.7),(100.9,13.5),(100,13.3),(99.3,10),(100.5,7.5),(102,6.2),(101,5.7),(100,6.5),(98.4,8),(98.6,10),(99.5,11),(99,15),(97.7,18)]],
    "Laos": [[(101,21.3),(101.7,21.2),(102.2,22.4),(103,20.8),(105,18.5),(107.5,15.5),(106.8,14),(105.5,14.5),(104.7,17.5),(102,18),(101,19.5),(100,20.3)]],
    "Vietnam": [[(102.2,22.4),(105.4,23),(108,21.6),(105.8,19),(109,14),(109,11.5),(105,8.6),(104.5,10.3),(106.8,11.5),(107.5,12.5),(106.8,14),(107.5,15.5),(105,18.5),(103,20.8)]],
    "Cambodia": [[(102.5,14),(105.5,14.5),(106.8,14),(107.5,12.5),(106.8,11.5),(104.5,10.3),(102.9,11.7)]],
    "Malaysia": [
        [(100,6.5),(101,5.7),(102,6.2),(103.4,4),(104.2,1.4),(103,1.6),(101.3,3),(100.4,5)],
        [(109.6,2),(113,3.2),(116.7,7),(119,5.2),(117.6,4.2),(115.5,4.2),(114.5,1.5),(112,1.3),(110,1)],
    ],
    "Indonesia": [
        [(109,0.5),(110,1),(112,1.3),(114.5,1.5),(115.5,4.2),(117.6,4.2),(119,1),(116,-3.8),(114.5,-4),(110.2,-3),(109,-0.3)],
        [(95.3,5.6),(98,4.2),(100.5,2.2),(103.5,0),(106,-3),(105.8,-5.9),(104.5,-5.8),(101,-2.5),(99,0),(97,3)],
        [(105.5,-6.5),(108.5,-6.5),(114.5,-7.8),(114.5,-8.7),(108,-7.8)],
        [(119.5,-5.5),(120.5,-3),(120,0.7),(125,1.5),(121,0.3),(123,-1),(122,-2),(122.8,-5),(121,-3.5),(120.5,-5.6)],
        [(131,-1),(134,-0.8),(135,-3.3),(138,-1.7),(141,-2.6),(141,-9.1),(138,-8.3),(138,-6),(133,-4),(132,-2.8)],
        [(119,-8.5),(123,-8.2),(120,-8.9)],
        [(127.5,1),(128.5,0),(128,-0.8)],
        [(128,-3),(130.5,-3.3),(128,-3.4)],
    ],
    "Timor": [[(124,-10),(127,-8.4),(125,-8.6)]],
    "Philippines": [
        [(120.5,18.5),(122.2,18.5),(122,16),(124,13),(121,13.8),(120,16)],
        [(122,7.2),(125,9),(126.4,8),(125.5,6),(124,6.3)],
        [(122,11.5),(125.5,12.5),(125,10),(123,9.5)],
        [(117.3,8.4),(119.5,11.3),(119,10.2)],
    ],
    "Japan": [
        [(131,34.3),(136,36.5),(137,37.3),(140,38),(140,41),(141.5,41),(142,39.5),(141,36.5),(140,35),(137,34.6),(135.5,33.5),(132.5,34)],
        [(130,33.5),(132,33),(131,31),(130,31.5)],
        [(132.5,33.8),(134.5,34),(133.5,33)],
        [(140,42),(141.7,45.5),(145.5,43.5),(143,42),(141,42.5)],
    ],
    "North Korea": [[(124.3,40),(126.8,41.7),(128,42),(130.5,42.5),(129.7,41),(127.5,39.7),(128.3,38.6),(126.7,37.8),(125,38)]],
    "South Korea": [[(126.7,37.8),(128.3,38.6),(129.4,37),(129.3,35.3),(127,34.5),(126.3,35),(126.5,37)]],
}
values_asia = {
    "Russia": 8.4, "Saudi Arabia": 10.1, "Yemen": 5.0, "Oman": 10.3, "UAE": 10.6, "Qatar": 13.5,
    "Kuwait": 13.2, "Iraq": 5.0, "Syria": 5.2, "Jordan": 5.2, "Israel": 6.0, "Lebanon": 7.0, "Turkey": 7.4,
    "Iran": 9.0, "Georgia": 7.0, "Armenia": 7.2, "Azerbaijan": 7.6, "Afghanistan": 3.7, "Pakistan": 5.0,
    "India": 7.1, "Bangladesh": 7.2, "Nepal": 5.0, "Bhutan": 7.6, "Sri Lanka": 6.8, "China": 7.0,
    "Mongolia": 6.5, "Kazakhstan": 6.4, "Uzbekistan": 6.5, "Turkmenistan": 6.2, "Tajikistan": 5.4,
    "Kyrgyzstan": 5.6, "Myanmar": 7.4, "Thailand": 7.5, "Laos": 5.2, "Vietnam": 8.0, "Cambodia": 6.9,
    "Malaysia": 8.0, "Indonesia": 7.4, "Timor": 5.0, "Philippines": 5.8, "Japan": 5.6, "North Korea": 6.0,
    "South Korea": 7.6,
}

outlines_oceania = {
    "Australia": [
        [(117,-20.7),(114,-22),(113.5,-25),(114.5,-28),(115.7,-32),(115,-34.3),(118,-35),(123.5,-33.9),(129,-31.6),(134,-32.7),(138,-35.6),(140.5,-38),(146.3,-39),(150,-37.3),(153.2,-30),(153,-25),(149,-20.5),(146,-19),(145.3,-15),(142.5,-10.8),(141.7,-15),(140.5,-17.5),(136,-15),(137,-12.2),(132.5,-11.5),(129.5,-15),(126,-14),(122,-18)],
        [(144.7,-40.8),(148.2,-40.8),(147.5,-43.3),(146,-43.6)],
    ],
    "New Zealand": [
        [(172.7,-40.6),(174.2,-41.7),(171,-45),(168.5,-46.6),(166.5,-45.8)],
        [(172.7,-34.5),(176,-37.5),(178.5,-37.7),(175.3,-41.6),(174.7,-39)],
    ],
    "PNG": [
        [(141,-2.6),(145,-4.3),(147.8,-6),(147,-7),(150.8,-10.5),(147,-9.5),(143,-9.2),(141,-9.1)],
        [(148.5,-5.6),(152,-4.3),(151,-6)],
    ],
    "Solomon Is.": [[(157,-7),(160,-9),(159,-8)]],
    "New Caledonia": [[(164,-20),(167,-22.4),(165,-21.5)]],
    "Fiji": [[(177.5,-17.5),(178.7,-18),(177.5,-18.3)]],
}
values_oceania = {
    "Australia": 6.6, "New Zealand": 6.2, "PNG": 5.0, "Solomon Is.": 5.0,
    "New Caledonia": 7.0, "Fiji": 6.5,
}

# 값이 없는 지역 (회색)
outlines_missing = {
    "Western Sahara": [[(-8.7,27.7),(-10,27.7),(-12,24),(-14,21.3),(-13,21.3),(-13,23),(-12,26),(-8.7,26)]],
    "Somaliland": [[(43,11),(43.4,11.4),(48.9,11.4),(48.9,9.5),(48,8),(44,9)]],
    "Taiwan": [[(121,25),(122,25),(120.9,22),(120.2,23)]],
    "Falkland Is.": [[(-61,-51.8),(-58,-51.4),(-59,-52.3)]],
}

title_text = "남성 인구 중 40~44세 비중 (2025년)"
subtitle_text = "World Bank SP.POP.4044.MA.5Y · 217개 국가·경제권 관측치"
colorbar_label = "40~44세 남성 비중 (% of male population)"
footer_boundary = "표시 경계: Natural Earth 저해상도 세계 경계. 작은 섬과 영토는 축척상 보이지 않을 수 있으며, 통계 계산에는 217개 관측치를 모두 사용했습니다."
footer_source = "자료: World Bank indicator SP.POP.4044.MA.5Y (2025)"
colorbar_ticks = [2, 4, 6, 8, 10, 12]

W, H = 1382, 848


def px_axes(left, top, right, bottom):
    """픽셀 좌표로 axes 위치를 지정한다."""
    return [left / W, 1 - bottom / H, (right - left) / W, (bottom - top) / H]


def main():
    fig = plt.figure(figsize=(W / 100, H / 100), dpi=100)

    norm = Normalize(2, 13.5)
    cmap = plt.get_cmap("viridis")

    ax = fig.add_axes(px_axes(127, 182, 1367, 672))
    polys, vals = [], []
    for outlines, values in [(outlines_america, values_america), (outlines_europe, values_europe),
                             (outlines_africa, values_africa), (outlines_asia, values_asia),
                             (outlines_oceania, values_oceania)]:
        for name, parts in outlines.items():
            for part in parts:
                polys.append(part)
                vals.append(values[name])
    ax.add_collection(PolyCollection(polys, array=vals, cmap=cmap, norm=norm,
                                     edgecolors="white", linewidths=0.4))
    missing = [part for parts in outlines_missing.values() for part in parts]
    ax.add_collection(PolyCollection(missing, facecolors="#eeeeee", edgecolors="#eeeeee", linewidths=0.3))
    ax.set_xlim(-180, 180)
    ax.set_ylim(-56, 84)
    ax.axis("off")

    cax = fig.add_axes(px_axes(279, 663, 1175, 708))
    cbar = fig.colorbar(ScalarMappable(norm=norm, cmap=cmap), cax=cax, orientation="horizontal")
    cbar.set_ticks(colorbar_ticks)
    cbar.ax.tick_params(labelsize=10)
    fig.text(727 / W, 1 - 747 / H, colorbar_label, ha="center", va="center", fontsize=14)

    fig.text(727 / W, 1 - 38 / H, title_text, ha="center", va="center", fontsize=31, fontweight="bold")
    fig.text(727 / W, 1 - 66 / H, subtitle_text, ha="center", va="center", fontsize=17)
    fig.text(15 / W, 1 - 797 / H, footer_boundary, ha="left", va="center", fontsize=11.6)
    fig.text(15 / W, 1 - 825 / H, footer_source, ha="left", va="center", fontsize=11.6)

    fig.savefig("out.png", dpi=100)
    plt.close(fig)


if __name__ == "__main__":
    main()
